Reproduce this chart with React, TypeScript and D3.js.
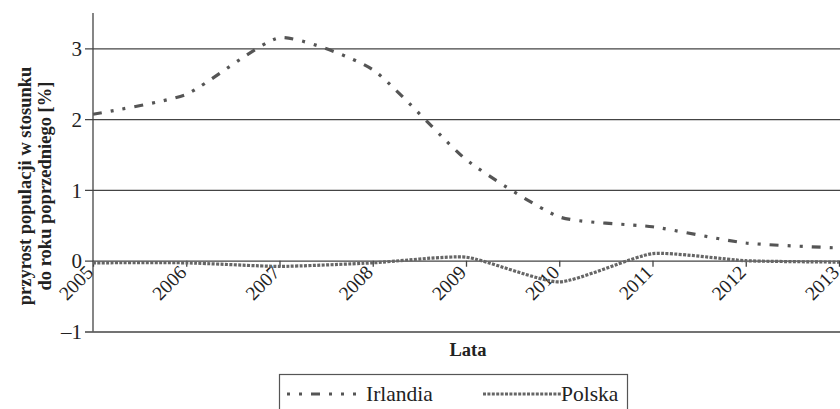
import * as d3 from "d3";
import { useEffect, useRef } from "react";

const years = [2005, 2006, 2007, 2008, 2009, 2010, 2011, 2012, 2013];
const irlandia = [2.07, 2.35, 3.15, 2.7, 1.43, 0.62, 0.48, 0.25, 0.18];
const polska = [-0.03, -0.03, -0.08, -0.03, 0.05, -0.3, 0.1, 0.0, -0.02];
const yTicks = [-1, 0, 1, 2, 3];

const serif = "'Liberation Serif', 'Times New Roman', serif";

export default function App() {
  const svgRef = useRef<SVGSVGElement>(null);

  useEffect(() => {
    if (!svgRef.current) return;
    const svg = d3.select<SVGSVGElement, unknown>(svgRef.current);
    svg.selectAll("*").remove();
    const width = 840;
    const height = 409;
    svg.attr("width", width).attr("height", height);

    svg.append("rect").attr("width", width).attr("height", height).attr("fill", "#fff");

    const x = d3.scaleLinear().domain([2005, 2013]).range([93, 839]);
    const y = d3.scaleLinear().domain([-1, 3.5]).range([331.5, 13]);

    // horizontal gridlines + y ticks
    const yAxis = d3
      .axisLeft(y)
      .tickValues(yTicks)
      .tickSize(-(width - 85))
      .tickPadding(0)
      .tickFormat((d) => ((d as number) < 0 ? `\u2013${Math.abs(d as number)}` : `${d}`));
    const yG = svg.append("g").attr("transform", "translate(85,0)").call(yAxis);
    yG.select(".domain").remove();
    yG.selectAll(".tick line").attr("stroke", "#444").attr("stroke-width", 1.3);
    yG.selectAll(".tick text")
      .attr("x", -3)
      .attr("dy", "0.34em")
      .attr("fill", "#222")
      .attr("font-size", "21px")
      .attr("font-family", serif);

    // vertical axis line
    svg
      .append("line")
      .attr("x1", x(2005))
      .attr("x2", x(2005))
      .attr("y1", y(3.5))
      .attr("y2", y(-1))
      .attr("stroke", "#444")
      .attr("stroke-width", 1.3);

    // x axis at zero
    const xAxis = d3
      .axisBottom(x)
      .tickValues(years)
      .tickSize(6)
      .tickFormat((d) => `${d}`);
    const xG = svg.append("g").attr("transform", `translate(0,${y(0)})`).call(xAxis);
    xG.select(".domain").remove();
    xG.selectAll(".tick line").attr("stroke", "#444").attr("stroke-width", 1.3);
    xG.selectAll(".tick text")
      .attr("y", 0)
      .attr("dy", 0)
      .attr("transform", "translate(1,13) rotate(-45)")
      .attr("text-anchor", "end")
      .attr("fill", "#222")
      .attr("font-size", "19.5px")
      .attr("font-family", serif);

    const line = d3
      .line<number>()
      .x((_, i) => x(years[i]))
      .y((d) => y(d))
      .curve(d3.curveCardinal.tension(0.45));

    svg
      .append("path")
      .datum(polska)
      .attr("d", line)
      .attr("fill", "none")
      .attr("stroke", "#666")
      .attr("stroke-width", 3.2)
      .attr("stroke-dasharray", "3,1.4");

    svg
      .append("path")
      .datum(irlandia)
      .attr("d", line)
      .attr("fill", "none")
      .attr("stroke", "#555")
      .attr("stroke-width", 3.2)
      .attr("stroke-dasharray", "9,9,3,9,3,9");

    // axis titles
    const yTitle = svg
      .append("text")
      .attr("transform", "translate(0,186) rotate(-90)")
      .attr("text-anchor", "middle")
      .attr("font-family", serif)
      .attr("font-weight", "bold")
      .attr("font-size", "18.5px")
      .attr("fill", "#222");
    yTitle.append("tspan").attr("x", 0).attr("y", 31).text("przyrost populacji w stosunku");
    yTitle.append("tspan").attr("x", 0).attr("y", 51).text("do roku poprzedniego [%]");

    svg
      .append("text")
      .attr("x", 468)
      .attr("y", 356)
      .attr("text-anchor", "middle")
      .attr("font-family", serif)
      .attr("font-weight", "bold")
      .attr("font-size", "18.5px")
      .attr("fill", "#222")
      .text("Lata");

    // legend
    svg
      .append("rect")
      .attr("x", 279.5)
      .attr("y", 374.5)
      .attr("width", 348)
      .attr("height", 60)
      .attr("fill", "none")
      .attr("stroke", "#555")
      .attr("stroke-width", 1.2);

    const legendY = 394;
    svg
      .append("line")
      .attr("x1", 287)
      .attr("x2", 364)
      .attr("y1", legendY)
      .attr("y2", legendY)
      .attr("stroke", "#555")
      .attr("stroke-width", 3.2)
      .attr("stroke-dasharray", "3,9,3,9,9,9,3,9,3,9,3,9");
    svg
      .append("line")
      .attr("x1", 483)
      .attr("x2", 561)
      .attr("y1", legendY)
      .attr("y2", legendY)
      .attr("stroke", "#666")
      .attr("stroke-width", 3.2)
      .attr("stroke-dasharray", "3,1.4");

    const legendText = [
      { label: "Irlandia", x: 366 },
      { label: "Polska", x: 561 },
    ];
    svg
      .selectAll("text.legend")
      .data(legendText)
      .enter()
      .append("text")
      .attr("class", "legend")
      .attr("x", (d) => d.x)
      .attr("y", 401)
      .attr("font-family", serif)
      .attr("font-size", "21.5px")
      .attr("fill", "#222")
      .text((d) => d.label);
  }, []);

  return <svg ref={svgRef} style={{ position: "absolute", left: 0, top: 0 }}></svg>;
}
